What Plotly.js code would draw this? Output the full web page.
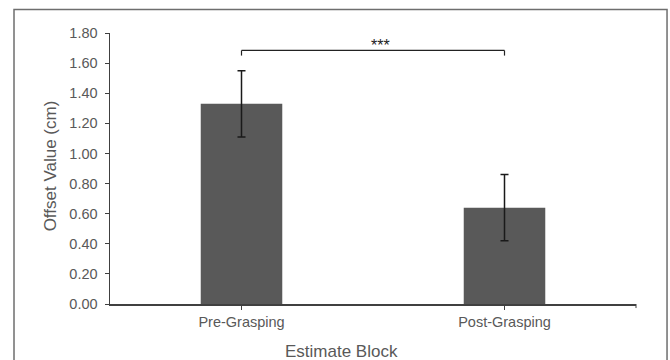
<!DOCTYPE html>
<html>
<head>
<meta charset="utf-8">
<script src="https://cdn.plot.ly/plotly-3.0.1.min.js"></script>
<style>
html,body{margin:0;padding:0;background:#fff;}
#chart{width:670px;height:360px;}
</style>
</head>
<body>
<div id="chart"></div>
<script>
// Data
const categories = ["Pre-Grasping", "Post-Grasping"];
const offsetValues = [1.33, 0.64];
const errorValues = [0.22, 0.22];
const yTickValues = [0, 0.2, 0.4, 0.6, 0.8, 1.0, 1.2, 1.4, 1.6, 1.8];
const yTickLabels = ["0.00","0.20","0.40","0.60","0.80","1.00","1.20","1.40","1.60","1.80"];
const bracketY = 1.684;
const bracketDropY = 1.65;
const significanceLabel = "***";
const xTitle = "Estimate Block";
const yTitle = "Offset Value (cm)";

const FONT = "Liberation Sans, Arial, sans-serif";
const TXT = "#595959";
const AX = "#404040";

const trace = {
  type: "bar",
  x: categories,
  y: offsetValues,
  marker: {color: "#595959", line: {width: 0}},
  width: 0.31,
  error_y: {type: "data", array: errorValues, visible: true, color: "#1a1a1a", thickness: 1.5, width: 4},
  hoverinfo: "skip"
};

const layout = {
  width: 670, height: 360,
  margin: {l: 110, r: 34, t: 33, b: 56},
  paper_bgcolor: "#ffffff",
  plot_bgcolor: "#ffffff",
  showlegend: false,
  font: {family: FONT, color: TXT, size: 14},
  xaxis: {
    type: "category",
    showline: true, linecolor: AX, linewidth: 1.5,
    ticks: "outside", ticklen: 4, tickcolor: AX, tickwidth: 1,
    showgrid: false, zeroline: false,
    tickfont: {family: FONT, color: TXT, size: 14.5},
    fixedrange: true
  },
  yaxis: {
    range: [0, 1.8],
    tickvals: yTickValues, ticktext: yTickLabels,
    showline: true, linecolor: AX, linewidth: 1.5,
    ticks: "outside", ticklen: 4, tickcolor: AX, tickwidth: 1,
    showgrid: false, zeroline: false,
    tickfont: {family: FONT, color: TXT, size: 14.5},
    ticklabelstandoff: 4,
    fixedrange: true
  },
  shapes: [
    // outer chart border
    {type: "rect", xref: "paper", yref: "paper", x0: -0.1825, x1: 1.059, y0: -0.25, y1: 1.087,
     line: {color: "#6e6e6e", width: 1.5}, fillcolor: "rgba(0,0,0,0)", layer: "below"},
    // end tick on x axis
    {type: "line", xref: "paper", yref: "paper", x0: 1, x1: 1, y0: 0, y1: -0.015, line: {color: AX, width: 1}},
    // significance bracket
    {type: "line", xref: "x", yref: "y", x0: 0, x1: 0, y0: bracketDropY, y1: bracketY, line: {color: "#222", width: 1.2}},
    {type: "line", xref: "x", yref: "y", x0: 0, x1: 1, y0: bracketY, y1: bracketY, line: {color: "#222", width: 1.2}},
    {type: "line", xref: "x", yref: "y", x0: 1, x1: 1, y0: bracketDropY, y1: bracketY, line: {color: "#222", width: 1.2}}
  ],
  annotations: [
    {text: significanceLabel, xref: "x", yref: "y", x: 0.53, y: bracketY, xanchor: "center", yanchor: "bottom", yshift: -6,
     showarrow: false, font: {family: FONT, size: 16, color: "#222"}},
    {text: yTitle, xref: "paper", yref: "paper", x: -0.113, y: 0.51, xanchor: "center", yanchor: "middle", textangle: -90,
     showarrow: false, font: {family: FONT, size: 17, color: TXT}},
    {text: xTitle, xref: "paper", yref: "paper", x: 0.441, y: -0.177, xanchor: "center", yanchor: "middle",
     showarrow: false, font: {family: FONT, size: 17, color: TXT}}
  ]
};

Plotly.newPlot("chart", [trace], layout, {displayModeBar: false, staticPlot: true});
</script>
</body>
</html>
